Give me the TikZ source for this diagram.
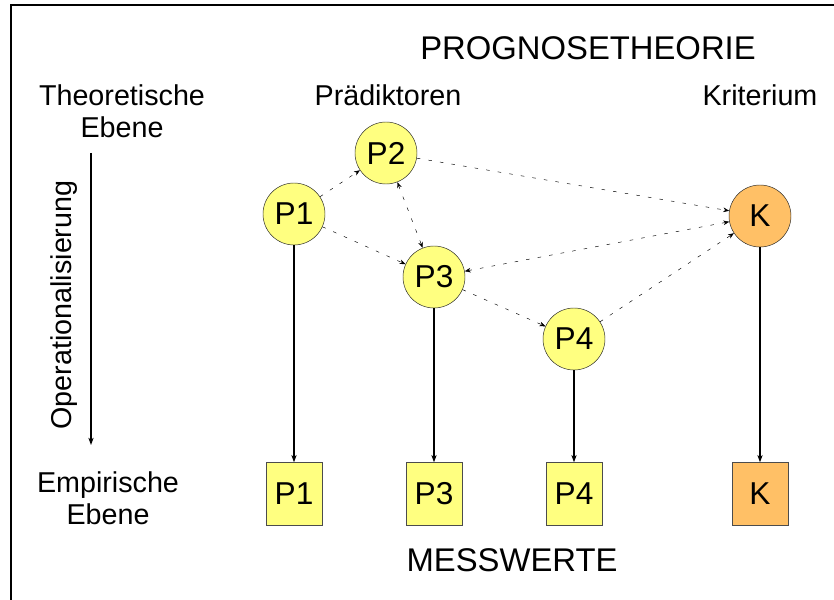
\documentclass[tikz,border=0pt]{standalone}
\usepackage{fontspec}
\setmainfont{Liberation Sans}
\usepackage{xcolor}
\usepackage{tikz}
\usetikzlibrary{arrows.meta,positioning}
\definecolor{predfill}{RGB}{255,255,128}
\definecolor{critfill}{RGB}{255,192,102}
\tikzset{
  pred/.style={draw=black!85, circle, minimum size=1.86cm, inner sep=0pt, fill=predfill, font=\fontsize{27}{32}\selectfont},
  crit/.style={pred, fill=critfill},
  meas/.style={draw=black!70, minimum width=1.68cm, minimum height=1.89cm, inner sep=0pt, fill=predfill, font=\fontsize{27}{32}\selectfont},
  meask/.style={meas, fill=critfill},
  head/.style={font=\fontsize{28}{33}\selectfont},
  side/.style={align=center, font=\fontsize{24.5}{27.5}\selectfont},
  arrow/.style={-{Stealth[length=2.2mm,width=1.6mm]}, line width=0.9pt},
  link/.style={-{Stealth[length=1.8mm,width=1.4mm]}, dash pattern=on 3pt off 7pt, line width=0.4pt},
  biglink/.style={link, {Stealth[length=1.8mm,width=1.4mm]}-{Stealth[length=1.8mm,width=1.4mm]}}
}
\begin{document}
\begin{tikzpicture}[x=0.03cm, y=-0.03cm]
  \useasboundingbox (0,0) rectangle (834,600);
  \draw[line width=1.2pt] (11,600) -- (11,5) -- (834,5);

  \node[head] (title) at (588,48) {PROGNOSETHEORIE};
  \node[side] (theo) at (122,111) {Theoretische\\Ebene};
  \node[side] (praed) at (388,95) {Prädiktoren};
  \node[side] (krit) at (760,95) {Kriterium};
  \node[side] (emp) at (108,498) {Empirische\\Ebene};
  \node[head] (mess) at (512,560) {MESSWERTE};

  % Operationalisierung
  \coordinate (opstart) at (91,153);
  \coordinate (opend) at (91,445);
  \draw[arrow] (opstart) -- (opend);
  \node[side, rotate=90] (oplabel) at (64,305) {Operationalisierung};

  % Konstrukte
  \node[pred] (p1) at (294,214) {P1};
  \node[pred] (p2) at (386,153) {P2};
  \node[pred] (p3) at (434,277) {P3};
  \node[pred] (p4) at (574,339) {P4};
  \node[crit] (k) at (760,216) {K};

  % Messwerte
  \node[meas] (m1) at (p1 |- 0,494) {P1};
  \node[meas] (m3) at (p3 |- 0,494) {P3};
  \node[meas] (m4) at (p4 |- 0,494) {P4};
  \node[meask] (mk) at (k |- 0,494) {K};

  \draw[link] (p1) -- (p2);
  \draw[link] (p1) -- (p3);
  \draw[biglink] (p2) -- (p3);
  \draw[link] (p2) -- (k);
  \draw[biglink] (p3) -- (k);
  \draw[link] (p3) -- (p4);
  \draw[link] (p4) -- (k);

  \draw[arrow] (p1) -- (m1);
  \draw[arrow] (p3) -- (m3);
  \draw[arrow] (p4) -- (m4);
  \draw[arrow] (k) -- (mk);
\end{tikzpicture}
\end{document}
